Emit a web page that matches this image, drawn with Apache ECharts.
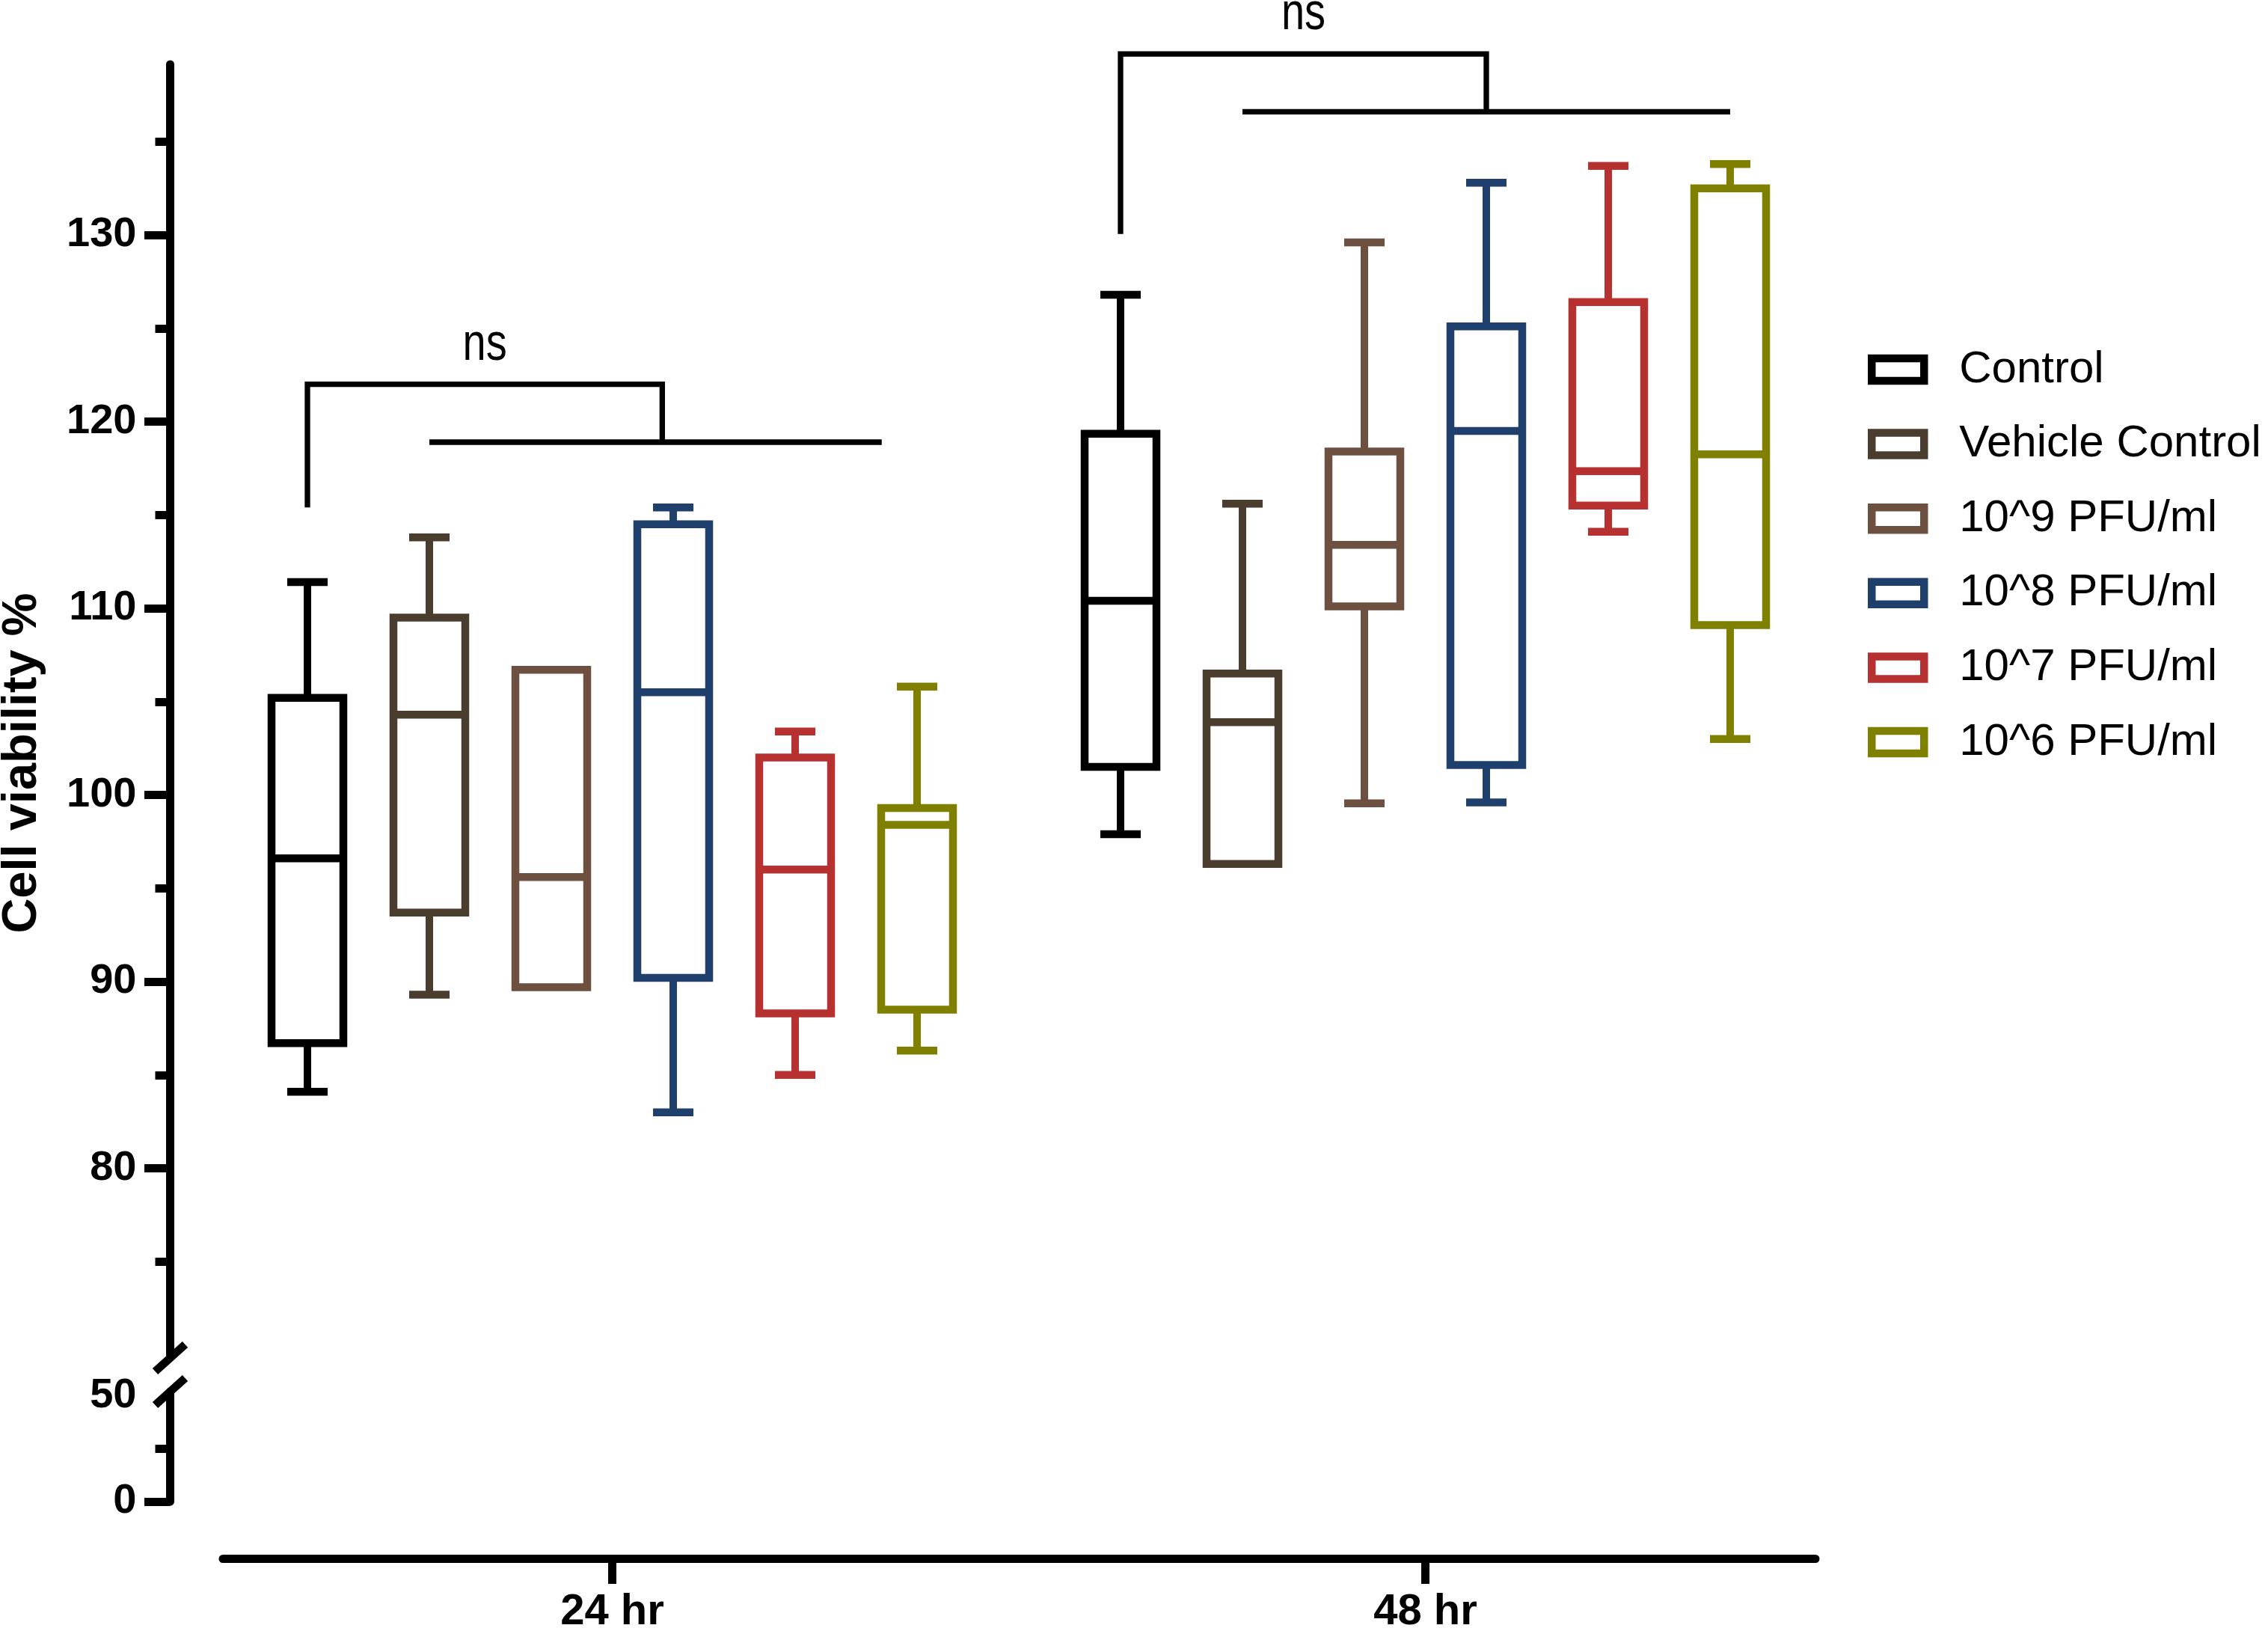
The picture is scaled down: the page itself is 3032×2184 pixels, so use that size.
<!DOCTYPE html>
<html>
<head>
<meta charset="utf-8">
<title>Cell viability</title>
<script src="https://cdn.jsdelivr.net/npm/echarts@6/dist/echarts.min.js"></script>
<style>
  html, body { margin: 0; padding: 0; background: #fff; }
  #chart { width: 3032px; height: 2184px; }
</style>
</head>
<body>
<div id="chart"></div>
<script>
// 分组、时间点与颜色
const groups = ['Control', 'Vehicle Control', '10^9 PFU/ml', '10^8 PFU/ml', '10^7 PFU/ml', '10^6 PFU/ml'];
const timePoints = ['24 hr', '48 hr'];
const colors = ['#000000', '#4b3d2e', '#6e5040', '#1f3f6c', '#b63130', '#7f7f00'];

// 每组箱线数据 [min, Q1, median, Q3, max]
const box24 = [
  [84.1, 86.7, 96.6, 105.2, 111.4],
  [89.3, 93.7, 104.3, 109.5, 113.8],
  [89.7, 89.7, 95.6, 106.7, 106.7],
  [83.0, 90.2, 105.5, 114.5, 115.4],
  [85.0, 88.3, 96.0, 102.0, 103.4],
  [86.3, 88.5, 98.4, 99.3, 105.8]
];
const box48 = [
  [97.9, 101.5, 110.4, 119.35, 126.8],
  [96.3, 96.3, 103.9, 106.5, 115.6],
  [99.55, 110.1, 113.4, 118.4, 129.6],
  [99.6, 101.6, 119.5, 125.1, 132.8],
  [114.1, 115.5, 117.35, 126.4, 133.7],
  [103.0, 109.1, 118.25, 132.5, 133.8]
];

// 坐标轴刻度
const upperTicks = [80, 90, 100, 110, 120, 130];
const upperMinorTicks = [75, 85, 95, 105, 115, 125, 135];
const lowerTicks = [0, 50];
const lowerMinorTicks = [25];

// 显著性标注（组内槽位 + 数值高度）
const brackets = [
  { time: 0, left: 0, hub: 2.91, from: 1, to: 4.71, baseY: 115.4, topY: 122.0, lineY: 118.9, text: 'ns' },
  { time: 1, left: 0, hub: 3, from: 1, to: 5, baseY: 130.05, topY: 139.7, lineY: 136.6, text: 'ns' }
];

// 布局参数
const GRID_LEFT = 298, GRID_W = 2129;
const UP_TOP = 86, UP_H = 1725;
const LOW_TOP = 1860, LOW_H = 148;
const Y_OFFSET = 70.5;
const SLOT_PX = 163;
const X_MIN = (GRID_LEFT - 411) / SLOT_PX;
const X_MAX = X_MIN + GRID_W / SLOT_PX;
const GROUP_STRIDE = 1087 / SLOT_PX;
const BOX_W = 96, CAP_W = 54, BOX_LW = 10.5;
const AXIS_LW = 11;
const FONT = "'Liberation Sans', Arial, sans-serif";

const slot = (t, i) => t * GROUP_STRIDE + i;
const groupCenters = timePoints.map((t, i) => slot(i, 2.5));

function renderBox(color) {
  return function (params, api) {
    const x = api.value(0);
    const pt = v => api.coord([x, v]);
    const pMin = pt(api.value(1)), pQ1 = pt(api.value(2)), pMed = pt(api.value(3));
    const pQ3 = pt(api.value(4)), pMax = pt(api.value(5));
    const cx = pMed[0];
    const lineStyle = { stroke: color, lineWidth: BOX_LW, fill: null };
    const children = [];
    if (pQ3[1] - pMax[1] > 2) {
      children.push({ type: 'line', shape: { x1: cx, y1: pQ3[1], x2: cx, y2: pMax[1] }, style: { stroke: color, lineWidth: 10 } });
      children.push({ type: 'line', shape: { x1: cx - CAP_W / 2, y1: pMax[1], x2: cx + CAP_W / 2, y2: pMax[1] }, style: lineStyle });
    }
    if (pMin[1] - pQ1[1] > 2) {
      children.push({ type: 'line', shape: { x1: cx, y1: pQ1[1], x2: cx, y2: pMin[1] }, style: { stroke: color, lineWidth: 10 } });
      children.push({ type: 'line', shape: { x1: cx - CAP_W / 2, y1: pMin[1], x2: cx + CAP_W / 2, y2: pMin[1] }, style: lineStyle });
    }
    children.push({
      type: 'rect',
      shape: { x: cx - BOX_W / 2, y: pQ3[1], width: BOX_W, height: pQ1[1] - pQ3[1] },
      style: { fill: '#fff', stroke: color, lineWidth: BOX_LW, lineJoin: 'miter' }
    });
    children.push({ type: 'line', shape: { x1: cx - BOX_W / 2, y1: pMed[1], x2: cx + BOX_W / 2, y2: pMed[1] }, style: lineStyle });
    return { type: 'group', children: children };
  };
}

function renderBracket(params, api) {
  const xl = api.value(0), yb = api.value(1), yt = api.value(2);
  const xh = api.value(3), yl = api.value(4), xf = api.value(5), xe = api.value(6);
  const a = api.coord([xl, yb]), b = api.coord([xl, yt]), c = api.coord([xh, yt]), d = api.coord([xh, yl]);
  const f = api.coord([xf, yl]), e = api.coord([xe, yl]);
  const st = { stroke: '#000', lineWidth: 7.3, fill: null, lineJoin: 'miter' };
  return {
    type: 'group',
    children: [
      { type: 'polyline', shape: { points: [a, b, c, d] }, style: st },
      { type: 'line', shape: { x1: f[0], y1: f[1], x2: e[0], y2: e[1] }, style: st },
      {
        // 窄体 "ns"：用横向缩放模拟
        type: 'text',
        x: (b[0] + c[0]) / 2,
        y: b[1] - 52,
        scaleX: 0.8,
        style: {
          text: brackets[params.dataIndex].text,
          x: 0, y: 0,
          align: 'center', verticalAlign: 'middle',
          font: "70px 'Liberation Sans', Arial, sans-serif",
          fill: '#000'
        }
      }
    ]
  };
}

const boxSeries = groups.map((g, i) => ({
  name: g,
  type: 'custom',
  xAxisIndex: 0,
  yAxisIndex: 0,
  clip: false,
  itemStyle: { color: colors[i] },
  renderItem: renderBox(colors[i]),
  data: [
    [slot(0, i)].concat(box24[i]),
    [slot(1, i)].concat(box48[i])
  ]
}));

const bracketSeries = {
  type: 'custom',
  xAxisIndex: 0,
  yAxisIndex: 0,
  clip: false,
  silent: true,
  renderItem: renderBracket,
  data: brackets.map(b => [
    slot(b.time, b.left), b.baseY, b.topY, slot(b.time, b.hub), b.lineY, slot(b.time, b.from), slot(b.time, b.to)
  ])
};

const axisLabelStyle = { fontFamily: FONT, fontWeight: 'bold', fontSize: 56, color: '#000', margin: 45 };

function yAxisBase(gridIndex, min, max) {
  return {
    type: 'value', gridIndex: gridIndex, min: min, max: max, position: 'left', offset: Y_OFFSET,
    splitLine: { show: false }
  };
}

const option = {
  animation: false,
  backgroundColor: '#fff',
  grid: [
    { left: GRID_LEFT, top: UP_TOP, width: GRID_W, height: UP_H },
    { left: GRID_LEFT, top: LOW_TOP, width: GRID_W, height: LOW_H }
  ],
  xAxis: [
    { type: 'value', gridIndex: 0, min: X_MIN, max: X_MAX, show: false, axisLine: { onZero: false } },
    {
      type: 'value', gridIndex: 1, min: X_MIN, max: X_MAX, position: 'bottom', offset: 76,
      splitLine: { show: false },
      axisLine: { show: true, onZero: false, lineStyle: { color: '#000', width: AXIS_LW } },
      axisTick: { show: true, customValues: groupCenters, length: 34, lineStyle: { color: '#000', width: AXIS_LW } },
      axisLabel: {
        customValues: groupCenters,
        fontFamily: FONT, fontWeight: 'bold', fontSize: 58, color: '#000', margin: 43,
        formatter: v => {
          let k = 0;
          groupCenters.forEach((c, i) => { if (Math.abs(c - v) < Math.abs(groupCenters[k] - v)) k = i; });
          return timePoints[k];
        }
      }
    }
  ],
  yAxis: [
    Object.assign(yAxisBase(0, 70, 139.14), {
      axisLine: { show: true, onZero: false, lineStyle: { color: '#000', width: AXIS_LW } },
      axisTick: { show: true, customValues: upperTicks, length: 34.5, lineStyle: { color: '#000', width: AXIS_LW } },
      axisLabel: Object.assign({ customValues: upperTicks }, axisLabelStyle)
    }),
    Object.assign(yAxisBase(0, 70, 139.14), {
      axisLine: { show: false, onZero: false },
      axisTick: { show: true, customValues: upperMinorTicks, length: 20, lineStyle: { color: '#000', width: AXIS_LW } },
      axisLabel: { show: false }
    }),
    Object.assign(yAxisBase(1, 0, 52.1), {
      axisLine: { show: true, onZero: false, lineStyle: { color: '#000', width: AXIS_LW } },
      axisTick: { show: true, customValues: [0], length: 34.5, lineStyle: { color: '#000', width: AXIS_LW } },
      axisLabel: Object.assign({ customValues: lowerTicks }, axisLabelStyle)
    }),
    Object.assign(yAxisBase(1, 0, 52.1), {
      axisLine: { show: false, onZero: false },
      axisTick: { show: true, customValues: lowerMinorTicks, length: 20, lineStyle: { color: '#000', width: AXIS_LW } },
      axisLabel: { show: false }
    })
  ],
  legend: {
    orient: 'vertical',
    left: 2497,
    top: 464,
    padding: 0,
    itemWidth: 70,
    itemHeight: 30,
    itemGap: 39.6,
    selectedMode: false,
    textStyle: { fontFamily: FONT, fontSize: 60, color: '#000', padding: [0, 0, 0, 42] },
    data: groups.map((g, i) => ({
      name: g,
      icon: 'rect',
      itemStyle: { color: '#fff', borderColor: colors[i], borderWidth: BOX_LW }
    }))
  },
  graphic: (function () {
    const ax = GRID_LEFT - Y_OFFSET;
    const upY = UP_TOP + UP_H + 4;
    const lowY = LOW_TOP;
    const slash = (cy) => ({
      type: 'line',
      shape: { x1: ax - 20, y1: cy + 18, x2: ax + 20, y2: cy - 18 },
      style: { stroke: '#000', lineWidth: AXIS_LW }
    });
    return [
      slash(upY),
      slash(lowY),
      {
        type: 'text',
        x: 30, y: 1020,
        rotation: Math.PI / 2,
        style: {
          text: 'Cell viability %',
          align: 'center', verticalAlign: 'middle',
          font: "bold 65px 'Liberation Sans', Arial, sans-serif",
          fill: '#000'
        }
      }
    ];
  })(),
  series: boxSeries.concat([bracketSeries])
};

const chart = echarts.init(document.getElementById('chart'));
chart.setOption(option);
</script>
</body>
</html>
